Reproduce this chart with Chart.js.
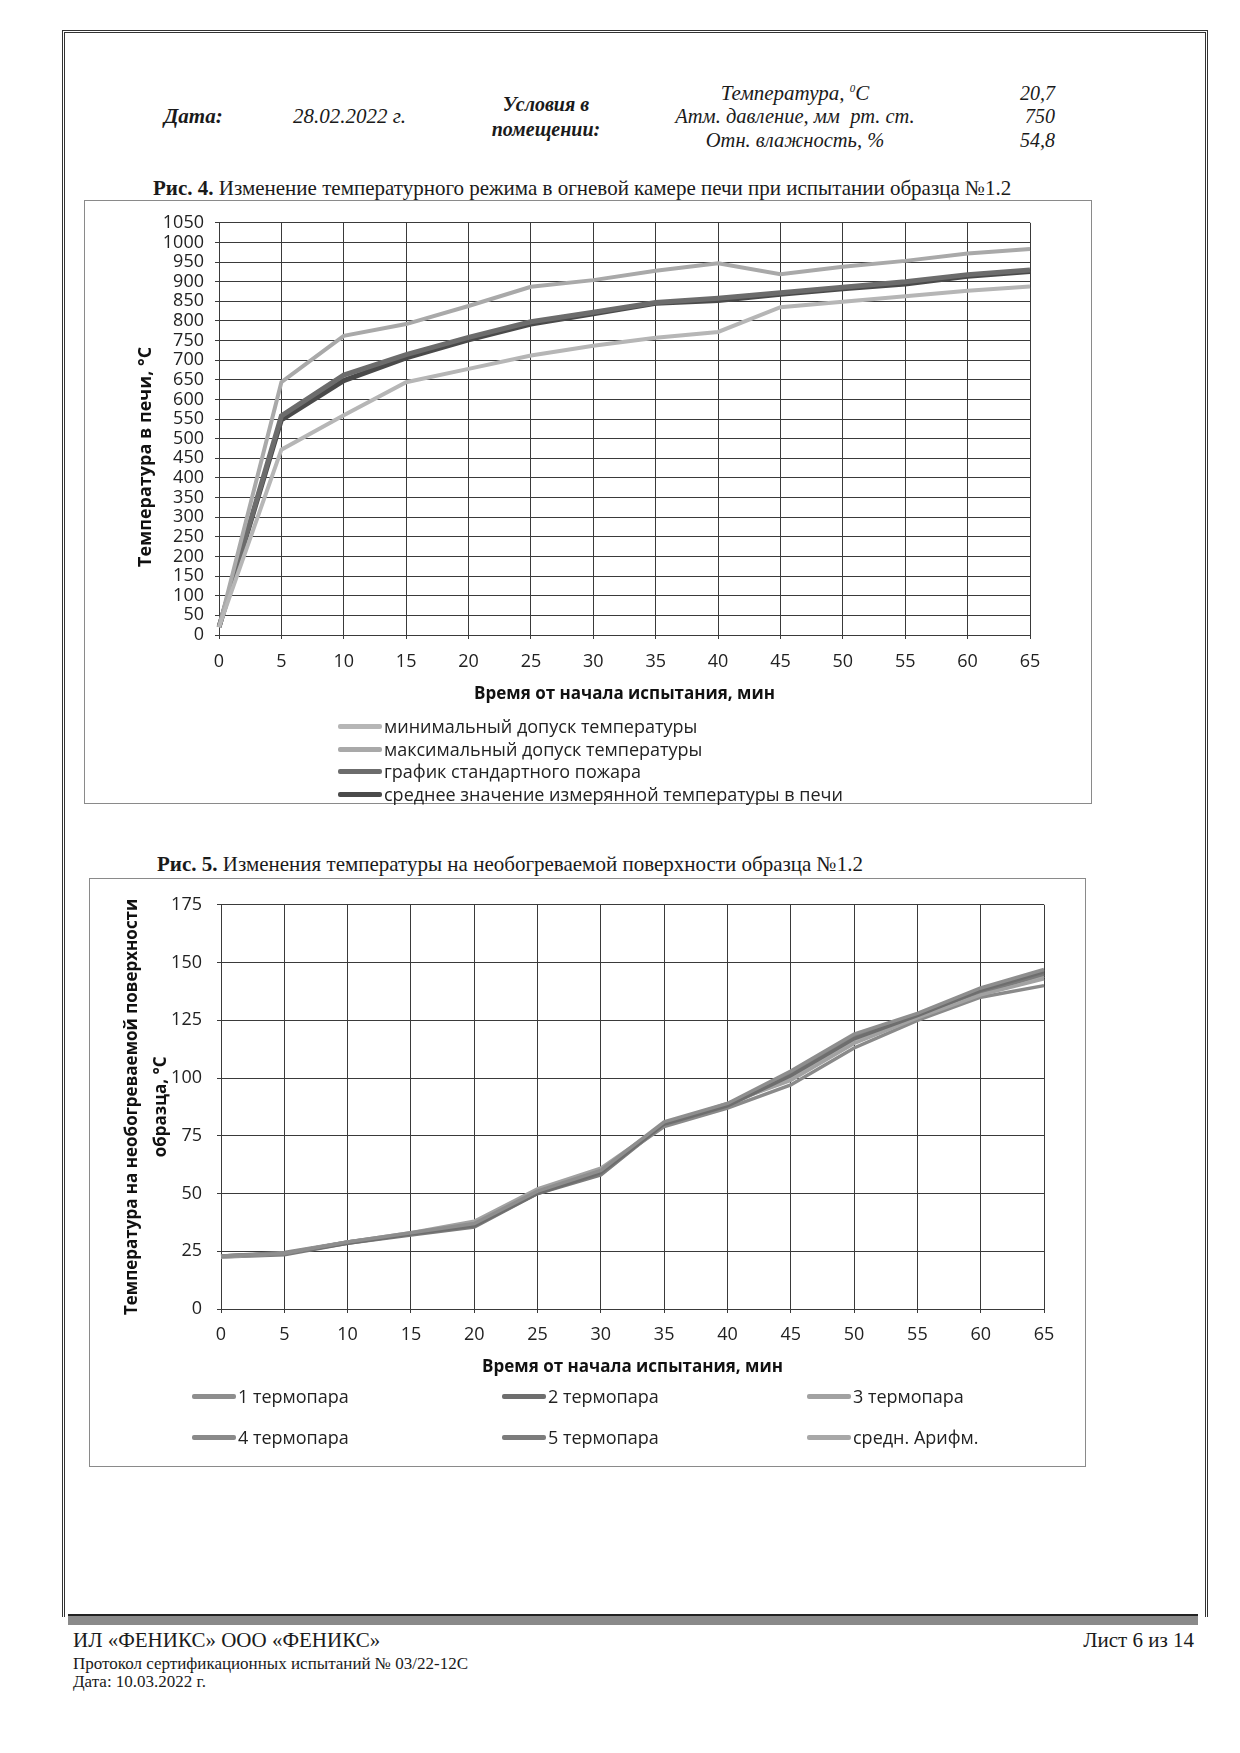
<!DOCTYPE html>
<html><head><meta charset="utf-8">
<script src="https://cdn.jsdelivr.net/npm/chart.js@4.4.1/dist/chart.umd.min.js"></script>
<style>
html,body{margin:0;padding:0;background:#fff;}
body{width:1240px;height:1753px;position:relative;overflow:hidden;font-family:"Liberation Serif",serif;color:#1a1a1a;}
.t{position:absolute;white-space:nowrap;transform:translateY(-50%);line-height:1;}
.c{transform:translate(-50%,-50%);}
.r{transform:translate(-100%,-50%);}
.i{font-style:italic;}
.b{font-weight:bold;}
.frame{position:absolute;left:62px;top:30px;width:1140px;height:1584px;border:3px double #333;border-bottom:none;}
.band{position:absolute;left:68px;top:1614px;width:1130px;height:9px;background:#8a8a8a;border-top:2px solid #222;}
.box{position:absolute;border:1px solid #8a8a8a;box-sizing:border-box;}
canvas{position:absolute;left:0;top:0;}
.lg{position:absolute;font-family:"Open Sans",sans-serif;font-size:18px;color:#222;white-space:nowrap;display:flex;align-items:center;transform:translateY(-50%);}
.sw{display:inline-block;width:44px;height:5px;border-radius:2px;margin-right:2px;}
</style></head><body>

<div class="frame"></div>
<div class="band"></div>

<!-- header -->
<div class="t i b" style="left:164px;top:116px;font-size:21px;">Дата:</div>
<div class="t i" style="left:293px;top:116px;font-size:21px;">28.02.2022 г.</div>
<div class="t i b c" style="left:546px;top:104px;font-size:20px;">Условия в</div>
<div class="t i b c" style="left:546px;top:129px;font-size:20px;">помещении:</div>
<div class="t i c" style="left:795px;top:93px;font-size:21px;">Температура, <sup style="font-size:11px">0</sup>C</div>
<div class="t i c" style="left:795px;top:116px;font-size:20.5px;">Атм. давление, мм &nbsp;рт. ст.</div>
<div class="t i c" style="left:795px;top:140px;font-size:20.5px;">Отн. влажность, %</div>
<div class="t i r" style="left:1055px;top:93px;font-size:20px;">20,7</div>
<div class="t i r" style="left:1055px;top:116px;font-size:20px;">750</div>
<div class="t i r" style="left:1055px;top:140px;font-size:20px;">54,8</div>

<div class="t" style="left:153px;top:188px;font-size:21px;"><b>Рис. 4.</b> Изменение температурного режима в огневой камере печи при испытании образца №1.2</div>
<div class="box" id="box1" style="left:84px;top:200px;width:1008px;height:604px;"><canvas id="c1" width="1008" height="604"></canvas></div>

<div class="t" style="left:157px;top:864px;font-size:21px;"><b>Рис. 5.</b> Изменения температуры на необогреваемой поверхности образца №1.2</div>
<div class="box" id="box2" style="left:89px;top:878px;width:997px;height:589px;"><canvas id="c2" width="997" height="589"></canvas></div>

<!-- footer -->
<div class="t" style="left:73px;top:1640px;font-size:21px;">ИЛ «ФЕНИКС» ООО «ФЕНИКС»</div>
<div class="t r" style="left:1194px;top:1640px;font-size:21px;">Лист 6 из 14</div>
<div class="t" style="left:73px;top:1663px;font-size:17px;">Протокол сертификационных испытаний № 03/22-12С</div>
<div class="t" style="left:73px;top:1681px;font-size:17px;">Дата: 10.03.2022 г.</div>

<script>
// ---------- data: figure 4 ----------
const minutes = [0, 5, 10, 15, 20, 25, 30, 35, 40, 45, 50, 55, 60, 65];
const minTolerance = [20, 472, 560, 644, 678, 712, 737, 757, 772, 835, 849, 863, 877, 888];
const maxTolerance = [20, 644, 762, 792, 838, 887, 904, 928, 947, 919, 938, 953, 972, 983];
const standardFire = [20, 558, 662, 714, 758, 798, 822, 847, 858, 872, 886, 900, 918, 930];
const measuredMean = [20, 548, 648, 706, 752, 792, 818, 845, 852, 868, 882, 894, 914, 926];
const furnaceLabels = ['минимальный допуск температуры', 'максимальный допуск температуры', 'график стандартного пожара', 'среднее значение измерянной температуры в печи'];
const furnaceYMin = 0, furnaceYMax = 1050, furnaceYStep = 50;

// ---------- data: figure 5 ----------
const tc1 = [23, 24, 29, 33, 37, 51, 60, 81, 89, 103, 119, 128, 139, 147];
const tc2 = [23, 24, 28.5, 32.5, 36, 50, 59, 80, 88, 101, 117, 127, 138, 146];
const tc3 = [22.5, 24, 29, 33, 38, 52, 61, 80, 89, 99, 115, 126, 136, 143];
const tc4 = [23, 24.5, 29, 32.5, 36.5, 51, 60, 79, 87, 97, 113, 125, 135, 140];
const tc5 = [22.5, 23.5, 28.5, 32, 35.5, 50, 58, 80, 88, 102, 118, 127, 137, 145];
const tcMean = [23, 24, 29, 32.5, 36.5, 51, 59.5, 80, 88, 100.5, 116.5, 126.5, 137, 144];
const surfaceLabels = ['1 термопара', '2 термопара', '3 термопара', '4 термопара', '5 термопара', 'средн. Арифм.'];
const surfaceYMin = 0, surfaceYMax = 175, surfaceYStep = 25;

const xTitle = 'Время от начала испытания, мин';
const y1Title = 'Температура в печи, °C\u00A0\u00A0\u00A0\u00A0\u00A0\u00A0\u00A0\u00A0\u00A0\u00A0\u00A0\u00A0';
const y2Title = ['Температура на необогреваемой поверхности', 'образца, °C'];

const GRID = '#3a3a3a';
const tickFont = {family: 'Open Sans', size: 18};
const titleFont = {family: 'Open Sans', size: 17, weight: 'bold'};

function ds(label, data, color, width) {
  return {label, data, borderColor: color, backgroundColor: color, borderWidth: width,
          pointRadius: 0, tension: 0, fill: false};
}

function baseOptions(o) {
  return {
    responsive: false, animation: false, devicePixelRatio: 1,
    layout: {padding: o.padding},
    plugins: {legend: {display: false}, tooltip: {enabled: false}},
    scales: {
      x: {
        type: 'category', offset: false,
        grid: {color: GRID, lineWidth: 1, tickLength: 4, tickColor: GRID},
        border: {color: GRID, width: 1},
        ticks: {font: tickFont, color: '#222', padding: o.xTickPad, maxRotation: 0, autoSkip: false},
        title: {display: true, text: xTitle, font: titleFont, color: '#111', padding: {top: 0, bottom: 1}},
        afterFit: s => { s.height = o.xH; }
      },
      y: {
        min: o.ymin, max: o.ymax,
        grid: {color: GRID, lineWidth: 1, tickLength: 4, tickColor: GRID},
        border: {color: GRID, width: 1},
        ticks: {stepSize: o.ystep, font: tickFont, color: '#222', padding: o.yTickPad, autoSkip: false,
                callback: v => String(v)},
        title: {display: true, text: o.yTitle, font: o.yTitleFont, color: '#111', padding: {top: o.yTitlePad, bottom: 0}},
        afterFit: s => { s.width = o.yW; }
      }
    }
  };
}

const chart1 = new Chart(document.getElementById('c1'), {
  type: 'line',
  data: {
    labels: minutes,
    datasets: [
      ds(furnaceLabels[0], minTolerance, '#b6b6b6', 4),
      ds(furnaceLabels[1], maxTolerance, '#a9a9a9', 4),
      ds(furnaceLabels[2], standardFire, '#6c6c6c', 5),
      ds(furnaceLabels[3], measuredMean, '#4a4a4a', 5)
    ]
  },
  options: baseOptions({padding: {left: 0, top: 17, right: 63, bottom: 100},
    xH: 70, yW: 134, xTickPad: 12, yTickPad: 11,
    ymin: furnaceYMin, ymax: furnaceYMax, ystep: furnaceYStep,
    yTitle: y1Title, yTitleFont: {family: 'Open Sans', size: 18, weight: 'bold'}, yTitlePad: 50})
});

const chart2 = new Chart(document.getElementById('c2'), {
  type: 'line',
  data: {
    labels: minutes,
    datasets: [
      ds(surfaceLabels[0], tc1, '#8e8e8e', 3.5),
      ds(surfaceLabels[1], tc2, '#6e6e6e', 3.5),
      ds(surfaceLabels[2], tc3, '#a2a2a2', 3.5),
      ds(surfaceLabels[3], tc4, '#8a8a8a', 3.5),
      ds(surfaceLabels[4], tc5, '#7c7c7c', 3.5),
      ds(surfaceLabels[5], tcMean, '#a8a8a8', 3.5)
    ]
  },
  options: baseOptions({padding: {left: 0, top: 18, right: 43, bottom: 90},
    xH: 69, yW: 131, xTickPad: 11, yTickPad: 15,
    ymin: surfaceYMin, ymax: surfaceYMax, ystep: surfaceYStep,
    yTitle: y2Title, yTitleFont: {family: 'Open Sans', size: 17, weight: 'bold', lineHeight: 1.7}, yTitlePad: 28})
});

// HTML legends built from the chart datasets
function addLegend(chart, positions) {
  chart.data.datasets.forEach((d, i) => {
    const p = positions[i];
    const el = document.createElement('div');
    el.className = 'lg';
    el.style.left = p[0] + 'px';
    el.style.top = p[1] + 'px';
    const sw = document.createElement('span');
    sw.className = 'sw';
    sw.style.background = d.borderColor;
    el.appendChild(sw);
    el.appendChild(document.createTextNode(d.label));
    document.body.appendChild(el);
  });
}
addLegend(chart1, [[338, 726], [338, 749], [338, 771], [338, 794]]);
addLegend(chart2, [[192, 1396], [502, 1396], [807, 1396], [192, 1437], [502, 1437], [807, 1437]]);
</script>
</body></html>
